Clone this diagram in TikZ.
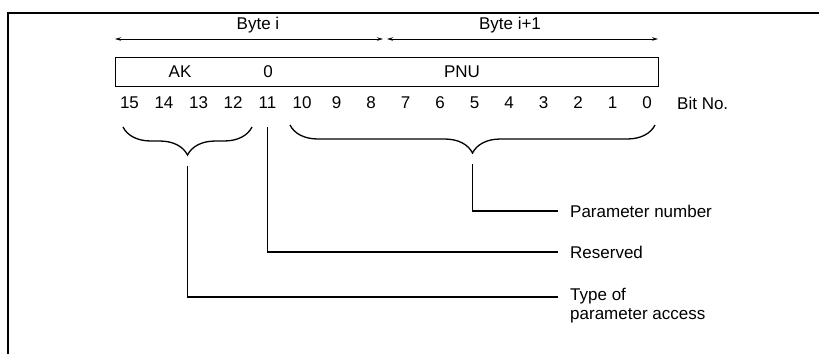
\documentclass[tikz,border=0pt]{standalone}
\usepackage{fontspec}
\setmainfont{Liberation Sans}
\usetikzlibrary{arrows.meta,decorations.pathreplacing}

\tikzset{
  txt/.style={font=\fontsize{17}{19}\selectfont, inner sep=0pt},
  lbl/.style={txt, anchor=west, align=left},
  brc/.style={decorate, decoration={brace, mirror, amplitude=28pt}, line width=1.3pt},
  lead/.style={line width=1.3pt},
  span/.style={{Stealth[length=6pt,width=3.5pt]}-{Stealth[length=6pt,width=3.5pt]}, line width=0.9pt}
}

\begin{document}
\begin{tikzpicture}[x=1pt, y=-1pt]
        \useasboundingbox (0,0) rectangle (819,354);
        \draw[line width=1.5pt] (8,354) -- (8,13) -- (819,13);

        % byte ranges
        \node[txt] (bytelo) at (258,25) {Byte i};
        \node[txt] (bytehi) at (510,25) {Byte i+1};
        \coordinate (lo) at (115,39);
        \coordinate (md) at (385,39);
        \coordinate (hi) at (658,39);
        \draw[span] (lo) -- ([xshift=-2pt]md);
        \draw[span] ([xshift=2pt]md) -- (hi);

        % parameter word
        \node[draw, line width=1.3pt, minimum width=543pt, minimum height=29pt, anchor=north west, inner sep=0pt] (word) at (115,57) {};
        \node[txt] (ak) at (180,72) {AK};
        \node[txt] (zero) at (268,72) {0};
        \node[txt] (pnu) at (462,72) {PNU};

        \foreach \b in {0,...,15}
            \node[txt] (b\b) at ({647-34.5*\b},103) {\b};
        \node[lbl] (bitno) at (677,103) {Bit No.};

        % braces
        \coordinate (akL) at (123,127);
        \coordinate (akR) at (252,127);
        \coordinate (akTip) at (187.5,155);
        \coordinate (pnuL) at (290,125);
        \coordinate (pnuR) at (655,125);
        \coordinate (pnuTip) at (472.5,153);
        \draw[brc] (akL) -- (akR);
        \draw[brc] (pnuL) -- (pnuR);

        % leads
        \node[lbl] (parno) at (570,211) {Parameter number};
        \node[lbl] (resv) at (570,252) {Reserved};
        \node[lbl, anchor=north west] (access) at (570,288) {Type of\\parameter access};
        \draw[lead] ([yshift=-11pt]pnuTip) |- ([xshift=-12pt]parno.west);
        \draw[lead] ([yshift=-18pt]b11.south) |- ([xshift=-12pt]resv.west);
        \draw[lead] ([yshift=-11pt]akTip) |- ([xshift=-12pt, yshift=-9pt]access.north west);
    \end{tikzpicture}
\end{document}
